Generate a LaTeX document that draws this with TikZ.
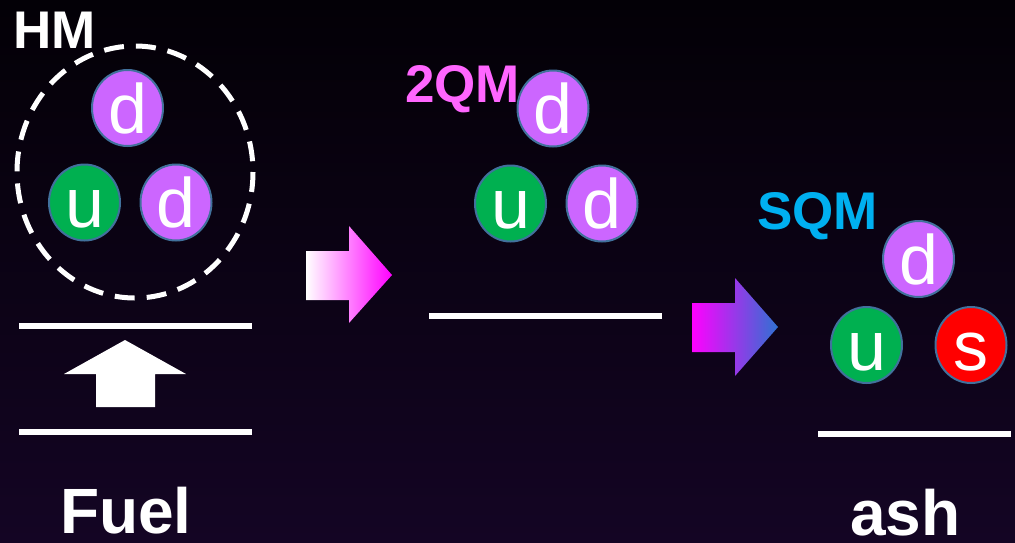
\documentclass[tikz,border=0pt]{standalone}
\usepackage{fontspec}
\setmainfont{Liberation Sans}
\usetikzlibrary{shapes.geometric}
\definecolor{bgtop}{HTML}{030006}
\definecolor{bgbot}{HTML}{140524}
\definecolor{dquark}{HTML}{CC66FF}
\definecolor{uquark}{HTML}{00B050}
\definecolor{squark}{HTML}{FF0000}
\definecolor{rim}{HTML}{41719C}
\definecolor{twoqm}{HTML}{FF66FF}
\definecolor{sqm}{HTML}{00B0F0}
\definecolor{arrowblue}{HTML}{2E72D2}
\definecolor{arrowmid}{HTML}{CC66FF}
\tikzset{
  quark/.style={ellipse, draw=rim, line width=2pt, inner sep=0pt,
    minimum width=71pt, minimum height=76pt, text=white,
    text height=50pt, text depth=0pt,
    font=\fontsize{70}{70}\selectfont},
  dq/.style={quark, fill=dquark},
  uq/.style={quark, fill=uquark},
  sq/.style={quark, fill=squark},
  phase/.style={font=\bfseries\fontsize{53}{60}\selectfont, anchor=base west, inner sep=0pt},
  stage/.style={font=\bfseries\fontsize{64}{70}\selectfont, anchor=base west, inner sep=0pt, text=white},
  level/.style={draw=white, line width=6pt},
  nucleon/.style={draw=white, line width=5pt, dash pattern=on 20pt off 12pt},
}
\begin{document}
\begin{tikzpicture}[x=1pt,y=-1pt]
  % background
  \shade[top color=bgtop, bottom color=bgbot] (0,0) rectangle (1015,542);
  \useasboundingbox (0,0) rectangle (1015,542);

  % hadronic matter: nucleon
  \node[phase, text=white] (hm) at (13,48) {HM};
  \draw[nucleon] (135,172) ellipse [x radius=118, y radius=126];
  \node[dq] (hmd1) at (127.5,108) {d};
  \node[uq] (hmu)  at (84.5,202.5) {u};
  \node[dq] (hmd2) at (176,202.5) {d};

  % energy levels and upward step
  \draw[level] (19,326) -- (252,326);
  \draw[level] (19,432) -- (252,432);
  \fill[white] (125,340) -- (186,374) -- (155,374) -- (155,407)
    -- (96,407) -- (96,374) -- (64,374) -- cycle;
  \node[stage] (fuel) at (60,533) {Fuel};

  % first transition
  \shade[left color=white, right color=magenta]
    (306,251) -- (349,251) -- (349,226) -- (392,275) -- (349,323)
    -- (349,300) -- (306,300) -- cycle;

  % two-flavour quark matter
  \node[phase, text=twoqm] (qm2) at (405,102) {2QM};
  \node[dq] (qmd1) at (553,108.5) {d};
  \node[uq] (qmu)  at (510.5,203.5) {u};
  \node[dq] (qmd2) at (602,203.5) {d};
  \draw[level] (429,316) -- (662,316);

  % second transition
  \shade[left color=magenta, middle color=arrowmid, right color=arrowblue]
    (692,303) -- (735,303) -- (735,278) -- (778,327) -- (735,376)
    -- (735,352) -- (692,352) -- cycle;

  % strange quark matter
  \node[phase, text=sqm] (sq) at (757,229) {SQM};
  \node[dq] (sqd) at (918.5,259) {d};
  \node[uq] (squ) at (866.5,345) {u};
  \node[sq] (sqs) at (971,345) {s};
  \draw[level] (818,434) -- (1011,434);
  \node[stage] (ash) at (850,535) {ash};
\end{tikzpicture}
\end{document}
